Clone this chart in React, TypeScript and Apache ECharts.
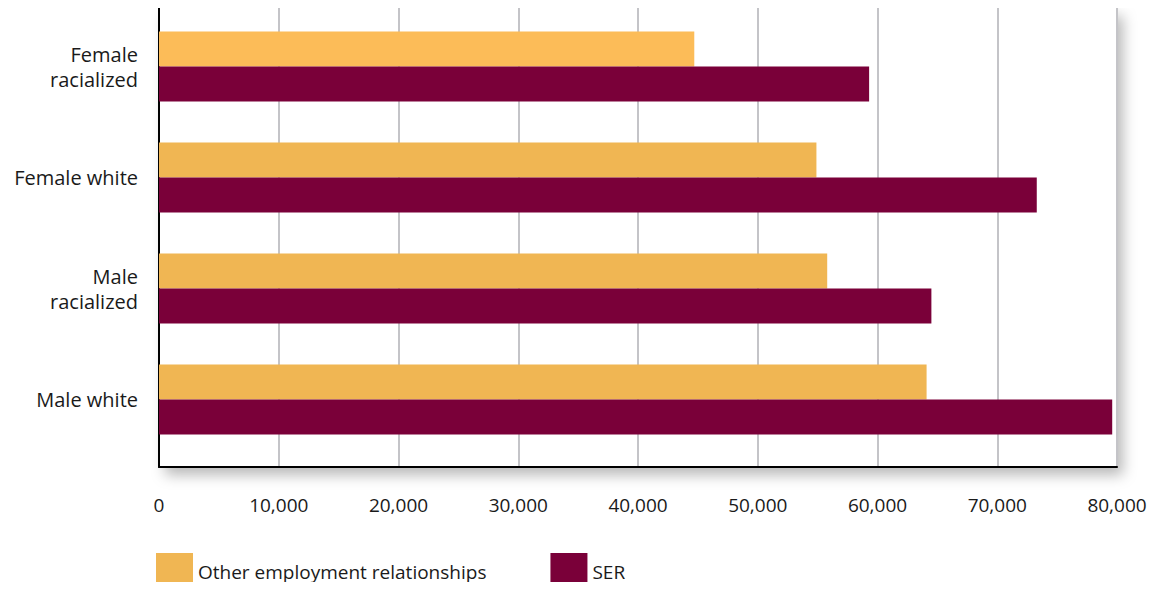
import React, { useEffect, useRef } from "react";
import * as echarts from "echarts";

const categories = ["Female\nracialized", "Female white", "Male\nracialized", "Male white"];
const otherValues = [44700, 54900, 55800, 64100];
const serValues = [59300, 73300, 64500, 79600];
const xTicks = [0, 10000, 20000, 30000, 40000, 50000, 60000, 70000, 80000];
const seriesNames = ["Other employment relationships", "SER"];

const FONT = "'Open Sans', sans-serif";
const ORANGE = "#F0B653";
const ORANGE_FIRST = "#FCBC58";
const MAROON = "#7A0039";

export default function App() {
  const ref = useRef<HTMLDivElement>(null);
  useEffect(() => {
    if (!ref.current) return;
    const chart = echarts.init(ref.current, undefined, { renderer: "svg" });
    const xMin = xTicks[0];
    const xMax = xTicks[xTicks.length - 1];
    const xInt = xTicks[1] - xTicks[0];
    chart.setOption({
      animation: false,
      backgroundColor: "#ffffff",
      textStyle: { fontFamily: FONT },
      grid: [
        {
          left: 159,
          right: 43,
          top: 8,
          bottom: 123,
          show: true,
          backgroundColor: "#ffffff",
          borderWidth: 0,
          shadowBlur: 14,
          shadowColor: "rgba(0,0,0,0.28)",
          shadowOffsetX: 6,
          shadowOffsetY: 8,
        },
        { left: 159, right: 43, top: 11, bottom: 135 },
      ],
      legend: {
        left: 156,
        top: 553,
        padding: 0,
        itemWidth: 37,
        itemHeight: 37,
        itemGap: 64,
        icon: "rect",
        textStyle: { fontFamily: FONT, fontSize: 19, color: "#1a1a1a" },
        data: seriesNames,
      },
      xAxis: [
        {
          type: "value",
          gridIndex: 0,
          min: xMin,
          max: xMax,
          interval: xInt,
          axisLine: { show: true, lineStyle: { color: "#000", width: 2 } },
          axisTick: { show: false },
          splitLine: { show: true, lineStyle: { color: "#C4C4C8", width: 2 } },
          axisLabel: {
            margin: 28,
            fontSize: 19,
            color: "#1a1a1a",
            fontFamily: FONT,
            formatter: (v: number) => v.toLocaleString("en-US"),
          },
        },
        {
          type: "value",
          gridIndex: 1,
          min: xMin,
          max: xMax,
          interval: xInt,
          show: false,
          splitLine: { show: false },
        },
      ],
      yAxis: [
        {
          type: "value",
          gridIndex: 0,
          min: 0,
          max: 1,
          axisLine: { show: true, lineStyle: { color: "#000", width: 2 } },
          axisTick: { show: false },
          axisLabel: { show: false },
          splitLine: { show: false },
        },
        {
          type: "category",
          gridIndex: 1,
          inverse: true,
          data: categories,
          axisLine: { show: false },
          axisTick: { show: false },
          axisLabel: {
            margin: 21,
            fontSize: 20,
            lineHeight: 25,
            align: "right",
            color: "#1a1a1a",
            fontFamily: FONT,
          },
        },
      ],
      series: [
        {
          name: seriesNames[0],
          type: "bar",
          xAxisIndex: 1,
          yAxisIndex: 1,
          barWidth: 35,
          barGap: "0%",
          itemStyle: { color: ORANGE },
          data: otherValues.map((v, i) =>
            i === 0 ? { value: v, itemStyle: { color: ORANGE_FIRST } } : v
          ),
        },
        {
          name: seriesNames[1],
          type: "bar",
          xAxisIndex: 1,
          yAxisIndex: 1,
          barWidth: 35,
          barGap: "0%",
          itemStyle: { color: MAROON },
          data: serValues,
        },
      ],
    });
    return () => chart.dispose();
  }, []);
  return <div ref={ref} style={{ width: 1160, height: 590, margin: -8 }} />;
}
